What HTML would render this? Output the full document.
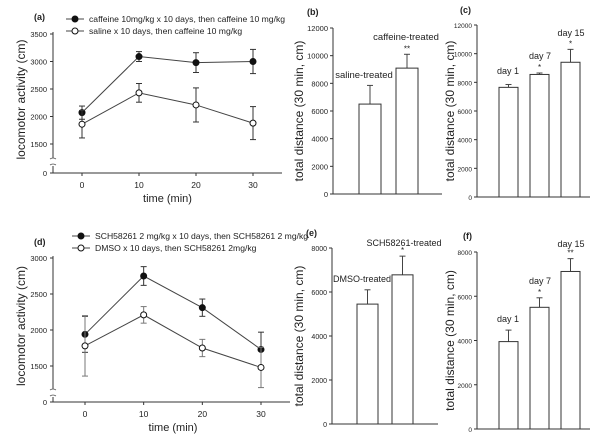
<!DOCTYPE html>
<html><head><meta charset="utf-8">
<style>
html,body{margin:0;padding:0;background:#fff}
svg{display:block}
text{font-family:"Liberation Sans",Arial,sans-serif;fill:#222}
</style></head>
<body>
<svg id="fig" width="600" height="444" viewBox="0 0 600 444" xmlns="http://www.w3.org/2000/svg"></svg>
<script>
// ---- data ----
const timeTicks = [0, 10, 20, 30];
const aCaffeine = [2070, 3090, 2980, 3000];
const aCaffeineErr = [120, 90, 180, 220];
const aSaline = [1860, 2430, 2210, 1880];
const aSalineErr = [250, 170, 310, 300];
const aYTicks = [1500, 2000, 2500, 3000, 3500];
const bCategories = ["saline-treated", "caffeine-treated"];
const bValues = [6500, 9100];
const bErr = [1350, 1000];
const bStars = ["", "**"];
const bYTicks = [0, 2000, 4000, 6000, 8000, 10000, 12000];
const cCategories = ["day 1", "day 7", "day 15"];
const cValues = [7650, 8550, 9400];
const cErr = [200, 100, 900];
const cStars = ["", "*", "*"];
const cYTicks = [0, 2000, 4000, 6000, 8000, 10000, 12000];
const dSCH = [1940, 2750, 2310, 1730];
const dSCHErr = [250, 130, 120, 240];
const dDMSO = [1780, 2210, 1750, 1480];
const dDMSOErr = [420, 115, 120, 280];
const dYTicks = [1500, 2000, 2500, 3000];
const eCategories = ["DMSO-treated", "SCH58261-treated"];
const eValues = [5450, 6780];
const eErr = [650, 850];
const eStars = ["", "*"];
const eYTicks = [0, 2000, 4000, 6000, 8000];
const fCategories = ["day 1", "day 7", "day 15"];
const fValues = [3950, 5500, 7120];
const fErr = [520, 430, 580];
const fStars = ["", "*", "**"];
const fYTicks = [0, 2000, 4000, 6000, 8000];

const svg = document.getElementById('fig');
const NS = 'http://www.w3.org/2000/svg';
function mk(tag, attrs, parent) {
  const e = document.createElementNS(NS, tag);
  for (const k in attrs) e.setAttribute(k, attrs[k]);
  (parent || svg).appendChild(e);
  return e;
}
function txt(s, x, y, size, anchor, parent, extra) {
  const t = mk('text', Object.assign({x: x, y: y, 'font-size': size, 'text-anchor': anchor || 'middle'}, extra || {}), parent);
  t.textContent = s;
  return t;
}

function linePanel(o) {
  const g = mk('g', {});
  
  
  const yS = v => o.y0 + (v - o.yMin) / (o.yMax - o.yMin) * (o.yTop - o.y0);
  const xS = v => o.x0 + (v - timeTicks[0]) / (timeTicks[3] - timeTicks[0]) * (o.x30 - o.x0);
  mk('line', {x1: o.ax, y1: o.yTop - 2, x2: o.ax, y2: o.brk - 4, stroke: '#333', 'stroke-width': 1}, g);
  mk('line', {x1: o.ax, y1: o.brk + 4, x2: o.ax, y2: o.yZero, stroke: '#333', 'stroke-width': 1}, g);
  mk('path', {d: `M${o.ax-3},${o.brk-3} q3,-2 6,0 M${o.ax-3},${o.brk+3} q3,-2 6,0`, stroke: '#555', fill: 'none', 'stroke-width': 0.8}, g);
  mk('line', {x1: o.ax, y1: o.yZero, x2: o.axEnd, y2: o.yZero, stroke: '#333', 'stroke-width': 1}, g);
  mk('line', {x1: o.ax - 3, y1: o.yZero, x2: o.ax, y2: o.yZero, stroke: '#333'}, g);
  txt('0', o.ax - 6, o.yZero + 3, 7.5, 'end', g);
  o.yTicks.forEach(v => {
    const y = yS(v);
    mk('line', {x1: o.ax - 3, y1: y, x2: o.ax, y2: y, stroke: '#333'}, g);
    const t = txt(String(v), o.ax - 6, y + 3, 7.5, 'end', g);
    
    
  });
  timeTicks.forEach(v => {
    const x = xS(v);
    mk('line', {x1: x, y1: o.yZero, x2: x, y2: o.yZero + 3, stroke: '#333'}, g);
    const t = txt(String(v), x, o.yZero + 15, 8.5, 'middle', g);
    
    
  });
  const xt = txt('time (min)', (o.x0 + o.x30) / 2, o.yZero + 29, 11, 'middle', g);
  
  
  const yt = txt('locomotor activity (cm)', 0, 0, 12, 'middle', g, {transform: `translate(${o.ax - 28},${(o.yTop + o.yZero) / 2 - 4}) rotate(-90)`});
  
  
  const pl = txt(o.label, o.labX, o.labY, 9, 'start', g, {'font-weight': 'bold'});
  
  
  o.series.forEach((s, si) => {
    const sg = mk('g', {}, g);
    
    
    const pts = s.vals.map((v, i) => [xS(timeTicks[i]), yS(v)]);
    mk('polyline', {points: pts.map(p => p.join(',')).join(' '), fill: 'none', stroke: '#444', 'stroke-width': 1}, sg);
    s.vals.forEach((v, i) => {
      const x = xS(timeTicks[i]);
      const col = s.errCol || '#333';
      mk('line', {x1: x, y1: yS(v - s.err[i]), x2: x, y2: yS(v + s.err[i]), stroke: col, 'stroke-width': 1}, sg);
      mk('line', {x1: x - 3, y1: yS(v + s.err[i]), x2: x + 3, y2: yS(v + s.err[i]), stroke: col}, sg);
      mk('line', {x1: x - 3, y1: yS(v - s.err[i]), x2: x + 3, y2: yS(v - s.err[i]), stroke: col}, sg);
    });
    s.vals.forEach((v, i) => {
      const c = mk('circle', {cx: xS(timeTicks[i]), cy: yS(v), r: 3, fill: s.filled ? '#111' : '#fff', stroke: '#111', 'stroke-width': 1}, sg);
      
      
    });
    const ly = o.legY + si * 12;
    const lg = mk('g', {}, g);
    
    
    mk('line', {x1: o.legX - 9, y1: ly, x2: o.legX + 9, y2: ly, stroke: '#444'}, lg);
    mk('circle', {cx: o.legX, cy: ly, r: 3, fill: s.filled ? '#111' : '#fff', stroke: '#111'}, lg);
    txt(s.legend, o.legX + 14, ly + 3, 8.6, 'start', lg);
  });
}

function barPanel(o) {
  const g = mk('g', {});
  
  
  const ymax = o.yTicks[o.yTicks.length - 1];
  const yS = v => o.y0 + v / ymax * (o.yTop - o.y0);
  mk('line', {x1: o.ax, y1: o.yTop, x2: o.ax, y2: o.y0, stroke: '#333'}, g);
  mk('line', {x1: o.ax, y1: o.y0, x2: o.axEnd, y2: o.y0, stroke: '#333'}, g);
  o.yTicks.forEach(v => {
    const y = yS(v);
    mk('line', {x1: o.ax - 3, y1: y, x2: o.ax, y2: y, stroke: '#333'}, g);
    const t = txt(String(v), o.ax - 5, y + 3, o.tickSize || 7.5, 'end', g);
    
    
  });
  const yt = txt('total distance (30 min, cm)', 0, 0, 12, 'middle', g, {transform: `translate(${o.ylx},${(o.yTop + o.y0) / 2}) rotate(-90)`});
  
  
  const pl = txt(o.label, o.labX, o.labY, 9, 'start', g, {'font-weight': 'bold'});
  
  
  o.values.forEach((v, i) => {
    const x = o.bx[0] + i * o.step;
    const w = o.bw;
    const cx = x + w / 2;
    const top = yS(v), et = yS(v + o.err[i]);
    mk('line', {x1: cx, y1: top, x2: cx, y2: et, stroke: '#444'}, g);
    mk('line', {x1: cx - 3, y1: et, x2: cx + 3, y2: et, stroke: '#444'}, g);
    const r = mk('rect', {x: x, y: top, width: w, height: o.y0 - top, fill: '#fff', stroke: '#333', 'stroke-width': 1}, g);
    
    
    if (o.stars[i]) {
      const st = txt(o.stars[i], cx, et - 3, 8, 'middle', g);
      
      
    }
    const lp = o.catPos[i];
    const lt = txt(o.cats[i], lp[0], lp[1], o.catSize || 9.5, 'middle', g);
    
    
  });
}

linePanel({name: 'panel-a', label: '(a)', labX: 34, labY: 20, ax: 53, axEnd: 282, yZero: 173, brk: 162,
  yMin: 1500, yMax: 3500, y0: 144, yTop: 34, x0: 82, x30: 253, yTicks: aYTicks, legX: 75, legY: 19,
  series: [
    {name: 'series-caffeine', vals: aCaffeine, err: aCaffeineErr, filled: true, legend: 'caffeine 10mg/kg x 10 days, then caffeine 10 mg/kg'},
    {name: 'series-saline', vals: aSaline, err: aSalineErr, filled: false, legend: 'saline x 10 days, then caffeine 10 mg/kg'}
  ]});
linePanel({name: 'panel-d', label: '(d)', labX: 34, labY: 245, ax: 53, axEnd: 290, yZero: 402, brk: 393,
  yMin: 1500, yMax: 3000, y0: 366, yTop: 258, x0: 85, x30: 261, yTicks: dYTicks, legX: 81, legY: 236,
  series: [
    {name: 'series-sch58261', vals: dSCH, err: dSCHErr, filled: true, legend: 'SCH58261 2 mg/kg x 10 days, then SCH58261 2 mg/kg'},
    {name: 'series-dmso', vals: dDMSO, err: dDMSOErr, filled: false, errCol: '#777', legend: 'DMSO x 10 days, then SCH58261 2mg/kg'}
  ]});
barPanel({name: 'panel-b', label: '(b)', labX: 307, labY: 15, ax: 333, axEnd: 442, y0: 194, yTop: 28, ylx: 303,
  yTicks: bYTicks, values: bValues, err: bErr, stars: bStars, cats: bCategories, bx: [359], step: 37, bw: 22,
  catPos: [[364, 78], [406, 40]]});
barPanel({name: 'panel-c', label: '(c)', labX: 460, labY: 13, ax: 477, axEnd: 590, y0: 197, yTop: 25, ylx: 454, tickSize: 6.5,
  yTicks: cYTicks, values: cValues, err: cErr, stars: cStars, cats: cCategories, bx: [499], step: 31, bw: 19, catSize: 9,
  catPos: [[508, 74], [540, 59], [571, 36]]});
barPanel({name: 'panel-e', label: '(e)', labX: 306, labY: 236, ax: 332, axEnd: 438, y0: 424, yTop: 248, ylx: 303, tickSize: 7,
  yTicks: eYTicks, values: eValues, err: eErr, stars: eStars, cats: eCategories, bx: [357], step: 35, bw: 21, catSize: 9,
  catPos: [[362, 282], [404, 246]]});
barPanel({name: 'panel-f', label: '(f)', labX: 463, labY: 239, ax: 477, axEnd: 590, y0: 429, yTop: 252, ylx: 454, tickSize: 6.5,
  yTicks: fYTicks, values: fValues, err: fErr, stars: fStars, cats: fCategories, bx: [499], step: 31, bw: 19, catSize: 9,
  catPos: [[508, 322], [540, 284], [571, 247]]});
</script>
</body></html>
